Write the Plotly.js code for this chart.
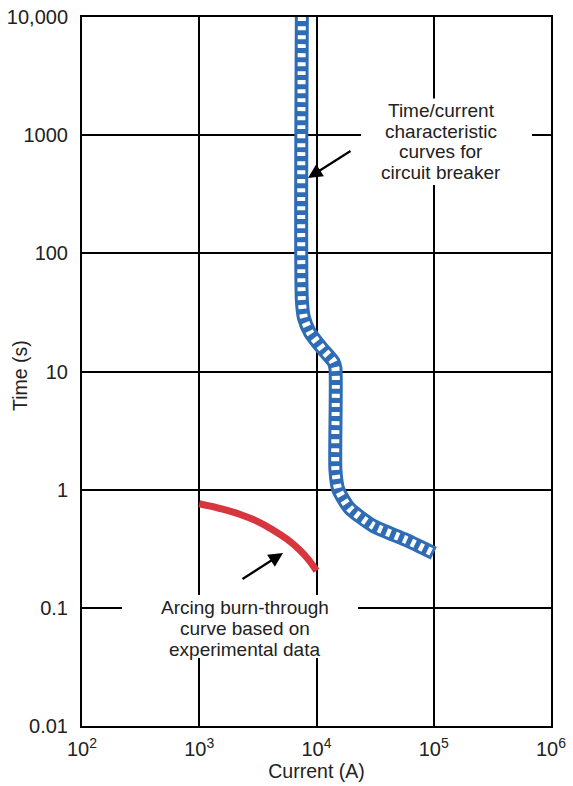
<!DOCTYPE html>
<html>
<head>
<meta charset="utf-8">
<script src="https://cdn.plot.ly/plotly-3.0.1.min.js"></script>
<style>
  html, body { margin: 0; padding: 0; background: #ffffff; }
  #chart { width: 573px; height: 786px; }
</style>
</head>
<body>
<div id="chart"></div>
<script>
// Circuit breaker time/current characteristic (centre line of the hatched band)
const breakerCurrent = [7500, 7500, 7820, 8840, 11460, 13930, 14500, 14500, 15350, 19050, 30400, 57900, 100000];
const breakerTime    = [10000, 40.4, 28.4, 21.2, 15.2, 12.1, 10.7, 1.47, 1.0, 0.70, 0.494, 0.376, 0.29];

// Arcing burn-through curve (experimental)
const arcCurrent = [1000, 1585, 2239, 3162, 4217, 5623, 7079, 8511, 10000];
const arcTime    = [0.760, 0.684, 0.617, 0.537, 0.459, 0.380, 0.313, 0.257, 0.206];

// Axis ticks
const xTickVals = [100, 1000, 10000, 100000, 1000000];
const xTickText = ["10<sup>2</sup>", "10<sup>3</sup>", "10<sup>4</sup>", "10<sup>5</sup>", "10<sup>6</sup>"];
const yTickVals = [0.01, 0.1, 1, 10, 100, 1000, 10000];
const yTickText = ["0.01", "0.1", "1", "10", "100", "1000", "10,000"];

const FONT = '"Liberation Sans", Arial, Helvetica, sans-serif';
const TXT = '#222222';
const BLUE = '#2e6cb6';
const RED = '#d8363f';

const traces = [
  { x: breakerCurrent, y: breakerTime, type: 'scatter', mode: 'lines',
    line: { color: BLUE, width: 14, shape: 'spline', smoothing: 0.6 }, hoverinfo: 'skip' },
  { x: breakerCurrent, y: breakerTime, type: 'scatter', mode: 'lines',
    line: { color: '#ffffff', width: 8, shape: 'spline', smoothing: 0.6, dash: '4px,5px' }, hoverinfo: 'skip' },
  { x: arcCurrent, y: arcTime, type: 'scatter', mode: 'lines',
    line: { color: RED, width: 7, shape: 'spline', smoothing: 1.0 }, hoverinfo: 'skip' }
];

const box1Lines = ["Time/current", "characteristic", "curves for", "circuit breaker"];
const box1Y = [0.8688, 0.8392, 0.8096, 0.7800];
const box2Lines = ["Arcing burn-through", "curve based on", "experimental data"];
const box2Y = [0.1678, 0.1382, 0.1086];

const annotations = [];
box1Lines.forEach((t, i) => annotations.push({
  xref: 'paper', yref: 'paper', x: 0.7655, y: box1Y[i], text: t, showarrow: false,
  xanchor: 'center', yanchor: 'middle', font: { family: FONT, size: 19, color: TXT }
}));
box2Lines.forEach((t, i) => annotations.push({
  xref: 'paper', yref: 'paper', x: 0.3475, y: box2Y[i], text: t, showarrow: false,
  xanchor: 'center', yanchor: 'middle', font: { family: FONT, size: 19, color: TXT }
}));
// arrows
annotations.push({ xref: 'paper', yref: 'paper', x: 0.4819, y: 0.7729, ax: 44, ay: -28,
  text: '', showarrow: true, arrowhead: 2, arrowsize: 1.3, arrowwidth: 2.2, arrowcolor: '#000' });
annotations.push({ xref: 'paper', yref: 'paper', x: 0.4286, y: 0.2440, ax: -42, ay: 27,
  text: '', showarrow: true, arrowhead: 2, arrowsize: 1.3, arrowwidth: 2.2, arrowcolor: '#000' });
// y axis title
annotations.push({ xref: 'paper', yref: 'paper', x: -0.132, y: 0.4937, text: 'Time (s)',
  showarrow: false, textangle: -90, xanchor: 'center', yanchor: 'middle',
  font: { family: FONT, size: 19.5, color: TXT } });

const shapes = [
  { type: 'rect', xref: 'paper', yref: 'paper', x0: 0.5949, x1: 0.9595, y0: 0.7630, y1: 0.8850,
    fillcolor: '#ffffff', line: { width: 0 }, layer: 'above' },
  { type: 'rect', xref: 'paper', yref: 'paper', x0: 0.0853, x1: 0.5885, y0: 0.0960, y1: 0.1848,
    fillcolor: '#ffffff', line: { width: 0 }, layer: 'above' }
];

const layout = {
  width: 573, height: 786,
  margin: { l: 82, r: 22, t: 17, b: 60 },
  paper_bgcolor: '#ffffff', plot_bgcolor: '#ffffff',
  showlegend: false,
  font: { family: FONT, size: 20, color: TXT },
  xaxis: {
    type: 'log', range: [2, 6],
    tickvals: xTickVals, ticktext: xTickText,
    showgrid: true, gridcolor: '#000000', gridwidth: 2,
    showline: true, mirror: true, linecolor: '#000000', linewidth: 2,
    zeroline: false, ticks: '', ticklabelstandoff: 4,
    tickfont: { family: FONT, size: 20, color: TXT },
    title: { text: 'Current (A)', font: { family: FONT, size: 19.5, color: TXT }, standoff: 4 },
    automargin: false
  },
  yaxis: {
    type: 'log', range: [-2, 4],
    tickvals: yTickVals, ticktext: yTickText,
    showgrid: true, gridcolor: '#000000', gridwidth: 2,
    showline: true, mirror: true, linecolor: '#000000', linewidth: 2,
    zeroline: false, ticks: '', ticklabelstandoff: 8,
    tickfont: { family: FONT, size: 20, color: TXT },
    automargin: false
  },
  annotations: annotations,
  shapes: shapes
};

Plotly.newPlot('chart', traces, layout, { displayModeBar: false, staticPlot: true });
</script>
</body>
</html>
